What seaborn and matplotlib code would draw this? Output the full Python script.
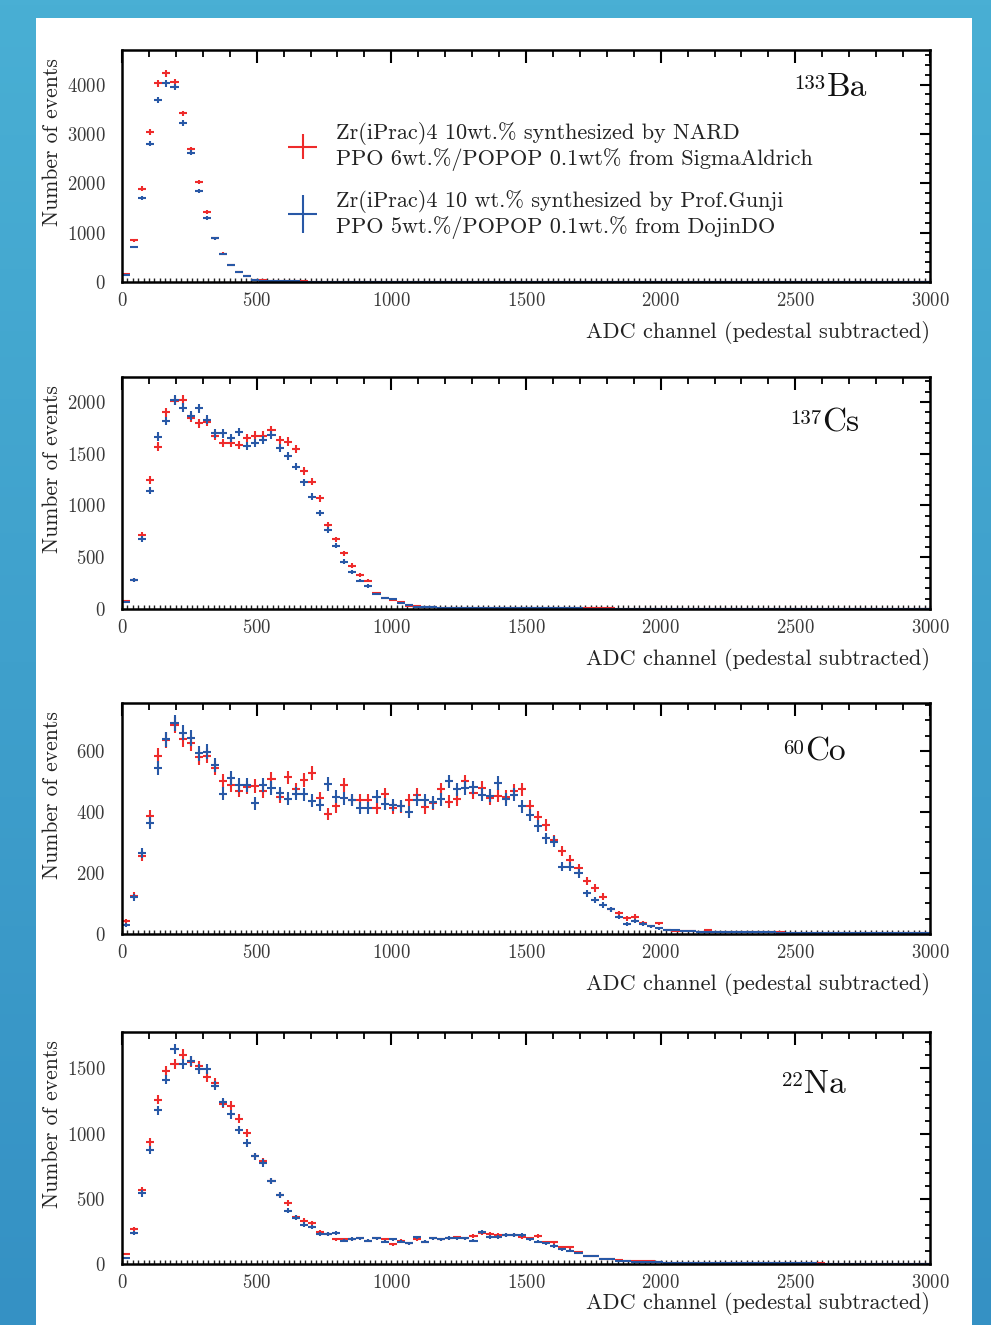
import numpy as np
import matplotlib
matplotlib.use("Agg")
import matplotlib.pyplot as plt
import seaborn as sns
from matplotlib.legend_handler import HandlerErrorbar
from matplotlib.patches import Rectangle
from matplotlib.colors import LinearSegmentedColormap
from matplotlib.ticker import MultipleLocator, NullLocator

# ---------------- data ----------------
bin_edges = np.arange(0, 3001, 30)          # 100 bins of 30 ADC channels
bin_centers = (bin_edges[:-1] + bin_edges[1:]) / 2

ba_nard = [170, 845, 1893, 3042, 4022, 4225, 4042, 3414, 2690, 2028,
           1420, 886, 575, 338, 210, 115, 47, 32, 24, 19,
           16, 13, 11, 10, 9, 8, 8, 7, 7, 6,
           6, 6, 5, 5, 5, 5, 4, 4, 4, 4,
           4, 4, 3, 3, 3, 4, 3, 3, 3, 3,
           3, 3, 3, 3, 3, 3, 3, 3, 3, 3,
           3, 3, 3, 2, 2, 3, 2, 2, 2, 2,
           2, 2, 2, 2, 2, 2, 9, 2, 2, 2,
           2, 2, 2, 2, 2, 2, 2, 2, 2, 2,
           2, 2, 2, 2, 2, 2, 2, 2, 2, 2]
ba_gunji = [150, 710, 1703, 2805, 3684, 4022, 3955, 3225, 2616, 1845,
            1298, 886, 561, 338, 210, 115, 34, 26, 20, 16,
            13, 11, 9, 8, 7, 7, 6, 6, 5, 5,
            5, 5, 4, 4, 4, 4, 4, 3, 3, 3,
            3, 3, 3, 3, 3, 3, 3, 3, 3, 3,
            3, 3, 3, 3, 2, 2, 2, 2, 2, 2,
            2, 2, 2, 2, 2, 2, 2, 2, 2, 2,
            2, 2, 2, 2, 2, 2, 2, 2, 2, 2,
            2, 2, 2, 2, 2, 2, 2, 2, 2, 2,
            2, 2, 2, 2, 2, 2, 2, 2, 2, 2]

cs_nard = [77, 280, 715, 1246, 1568, 1900, 2010, 2019, 1848, 1794,
           1810, 1674, 1600, 1600, 1584, 1649, 1674, 1674, 1729, 1633,
           1616, 1546, 1333, 1230, 1069, 811, 673, 538, 419, 328,
           274, 151, 103, 87, 71, 29, 32, 16, 16, 13,
           12, 10, 9, 9, 8, 8, 7, 7, 7, 6,
           6, 6, 6, 5, 5, 5, 5, 5, 5, 5,
           5, 4, 4, 4, 4, 4, 4, 4, 4, 4,
           4, 4, 4, 4, 4, 4, 4, 4, 4, 4,
           3, 3, 3, 3, 3, 3, 3, 3, 3, 3,
           3, 3, 3, 3, 3, 3, 3, 3, 3, 3]
cs_gunji = [64, 280, 676, 1143, 1665, 1816, 2019, 1945, 1868, 1938,
            1826, 1697, 1697, 1649, 1707, 1575, 1600, 1633, 1681, 1558,
            1481, 1375, 1224, 1085, 924, 763, 609, 457, 354, 274,
            222, 145, 103, 93, 55, 35, 22, 16, 16, 12,
            11, 9, 8, 8, 7, 7, 7, 6, 6, 6,
            5, 5, 5, 5, 5, 5, 5, 4, 4, 4,
            4, 4, 4, 4, 4, 4, 4, 4, 4, 4,
            4, 4, 4, 4, 3, 3, 3, 3, 3, 3,
            3, 3, 3, 3, 3, 3, 3, 3, 3, 3,
            3, 3, 3, 3, 3, 3, 3, 3, 3, 3]

co_nard = [44, 125, 256, 388, 584, 636, 685, 638, 625, 579,
           584, 543, 502, 489, 470, 481, 485, 467, 507, 450,
           513, 474, 505, 529, 445, 393, 418, 489, 439, 439,
           439, 412, 458, 412, 418, 439, 456, 415, 428, 474,
           434, 442, 500, 463, 478, 445, 453, 450, 470, 474,
           418, 385, 357, 308, 273, 243, 215, 175, 150, 122,
           81, 68, 51, 57, 37, 26, 35, 13, 11, 10,
           9, 8, 14, 7, 7, 6, 6, 6, 5, 5,
           5, 5, 4, 4, 4, 4, 4, 4, 4, 3,
           3, 3, 3, 3, 3, 3, 3, 3, 3, 3]
co_gunji = [30, 120, 267, 363, 543, 638, 691, 660, 642, 592,
            598, 554, 459, 510, 489, 489, 428, 489, 478, 461,
            443, 459, 458, 437, 423, 492, 450, 445, 439, 412,
            412, 450, 426, 423, 420, 401, 439, 439, 431, 442,
            500, 474, 478, 481, 456, 453, 494, 442, 456, 418,
            390, 354, 314, 303, 221, 221, 199, 133, 111, 95,
            81, 55, 33, 44, 33, 26, 19, 13, 13, 10,
            9, 8, 7, 7, 6, 6, 6, 5, 5, 5,
            5, 4, 4, 4, 4, 4, 4, 4, 3, 3,
            3, 3, 3, 3, 3, 3, 3, 3, 3, 3]

na_nard = [77, 268, 566, 936, 1260, 1479, 1535, 1607, 1553, 1522,
           1438, 1390, 1229, 1216, 1114, 1005, 826, 788, 638, 533,
           469, 357, 332, 311, 247, 230, 189, 189, 189, 196,
           179, 196, 189, 150, 179, 158, 189, 171, 196, 189,
           196, 204, 196, 214, 235, 227, 222, 222, 222, 204,
           196, 214, 166, 166, 128, 128, 89, 61, 61, 36,
           36, 31, 26, 23, 23, 26, 13, 10, 10, 9,
           8, 8, 7, 7, 6, 6, 6, 5, 5, 5,
           5, 4, 4, 4, 4, 4, 4, 3, 3, 3,
           3, 3, 3, 3, 3, 3, 3, 3, 3, 3]
na_gunji = [48, 235, 541, 872, 1178, 1415, 1650, 1535, 1556, 1497,
            1497, 1369, 1242, 1148, 1030, 931, 826, 775, 638, 533,
            408, 354, 303, 286, 230, 227, 240, 179, 191, 196,
            179, 196, 171, 189, 171, 158, 204, 171, 196, 189,
            201, 196, 196, 179, 247, 209, 209, 222, 222, 222,
            189, 171, 158, 138, 112, 102, 82, 61, 61, 36,
            36, 26, 23, 18, 18, 13, 13, 10, 10, 9,
            8, 7, 7, 6, 6, 6, 5, 5, 5, 5,
            4, 4, 4, 4, 4, 4, 3, 3, 3, 3,
            3, 3, 3, 3, 3, 3, 3, 3, 3, 3]

isotope_mass = ["133", "137", "60", "22"]
isotope_elem = ["Ba", "Cs", "Co", "Na"]
series_nard = [ba_nard, cs_nard, co_nard, na_nard]
series_gunji = [ba_gunji, cs_gunji, co_gunji, na_gunji]
y_max = [4700, 2240, 757, 1780]
y_major = [1000, 500, 200, 500]
y_minor = [200, 100, 50, 100]

label_nard = "Zr(iPrac)4 10wt.% synthesized by NARD\nPPO 6wt.%/POPOP 0.1wt% from SigmaAldrich"
label_gunji = "Zr(iPrac)4 10 wt.% synthesized by Prof.Gunji\nPPO 5wt.%/POPOP 0.1wt.% from DojinDO"
x_title = "ADC channel (pedestal subtracted)"
y_title = "Number of events"

# ---------------- style ----------------
sns.set_theme(style="white")
plt.rcParams["font.family"] = ["cmr10", "DejaVu Serif"]
plt.rcParams["mathtext.fontset"] = "cm"
plt.rcParams["axes.formatter.use_mathtext"] = True
plt.rcParams["axes.unicode_minus"] = False

RED = "#ee2b2b"
BLUE = "#2858a6"
W, H = 991, 1325

fig = plt.figure(figsize=(W / 100, H / 100), dpi=100)

# background: blue frame with white page
bg = fig.add_axes([0, 0, 1, 1], zorder=-10)
grad = np.linspace(0, 1, 256).reshape(-1, 1)
cmap = LinearSegmentedColormap.from_list("bg", ["#49afd4", "#3591c4"])
bg.imshow(grad, aspect="auto", cmap=cmap, extent=[0, W, H, 0], origin="upper")
bg.add_patch(Rectangle((36, 18), 936, H - 18, facecolor="white", edgecolor="none"))
bg.set_xlim(0, W)
bg.set_ylim(H, 0)
bg.axis("off")

# axes boxes in pixels: (top, bottom)
boxes = [(50, 282), (377, 609), (703, 934), (1032, 1264)]
ax_left, ax_right = 122, 930
xlabel_y = [-0.168, -0.168, -0.168, -0.12]
iso_pos = [(0.922, 0.80), (0.913, 0.767), (0.896, 0.749), (0.896, 0.737)]

for i, (top, bottom) in enumerate(boxes):
    ax = fig.add_axes([ax_left / W, 1 - bottom / H, (ax_right - ax_left) / W, (bottom - top) / H])
    ax.set_facecolor("white")
    containers = []
    for vals, col in ((series_nard[i], RED), (series_gunji[i], BLUE)):
        v = np.asarray(vals, dtype=float)
        h = ax.errorbar(bin_centers, v, xerr=15, yerr=np.sqrt(v), fmt="none",
                        ecolor=col, elinewidth=1.5, capsize=0)
        containers.append(h)
    hn, hg = containers

    ax.set_xlim(0, 3000)
    ax.set_ylim(0, y_max[i])
    ax.xaxis.set_major_locator(MultipleLocator(500))
    ax.xaxis.set_minor_locator(MultipleLocator(100))
    ax.yaxis.set_major_locator(MultipleLocator(y_major[i]))
    ax.yaxis.set_minor_locator(MultipleLocator(y_minor[i]))
    ax.tick_params(axis="both", which="both", direction="in", top=True, right=True,
                   colors="black", labelcolor="#3a3a3a", labelsize=13.5)
    ax.tick_params(axis="x", which="major", length=9, width=1.5, pad=7)
    ax.tick_params(axis="x", which="minor", length=5, width=1.3)
    ax.tick_params(axis="y", which="major", length=7, width=1.5, pad=12)
    ax.tick_params(axis="y", which="minor", length=3.5, width=1.3)
    for sp in ax.spines.values():
        sp.set_color("black")
        sp.set_linewidth(1.8)

    # tertiary ticks on the bottom axis
    sec = ax.secondary_xaxis("bottom")
    sec.xaxis.set_major_locator(NullLocator())
    sec.xaxis.set_minor_locator(MultipleLocator(20))
    sec.tick_params(which="minor", direction="in", length=3.2, width=1.0, colors="#222222")
    for sp in sec.spines.values():
        sp.set_visible(False)

    ax.set_xlabel(x_title, fontsize=16, loc="right", color="#222222")
    ax.xaxis.set_label_coords(1.0, xlabel_y[i])
    ax.set_ylabel(y_title, fontsize=15.5, loc="top", color="#222222")
    ax.yaxis.set_label_coords(-0.074, 0.966)

    xi, yi = iso_pos[i]
    t = ax.text(xi, yi, isotope_elem[i], transform=ax.transAxes, ha="right",
                va="baseline", fontsize=24, color="#111111")
    ax.annotate(isotope_mass[i], xy=(0, 1), xycoords=t, xytext=(-1, -1.5),
                textcoords="offset points", ha="right", va="top",
                fontsize=15, color="#111111")

    if i == 0:
        hmap = {hn: HandlerErrorbar(xerr_size=0.65, yerr_size=0.56),
                hg: HandlerErrorbar(xerr_size=0.65, yerr_size=0.86)}
        ax.legend(handles=[hn, hg], labels=[label_nard, label_gunji], handler_map=hmap,
                  loc="upper left", bbox_to_anchor=(0.199, 0.69), frameon=False,
                  fontsize=16, handlelength=1.8, handletextpad=0.59, labelspacing=0.83,
                  borderpad=0, borderaxespad=0, labelcolor="#222222")

fig.savefig("out.png", dpi=100)
